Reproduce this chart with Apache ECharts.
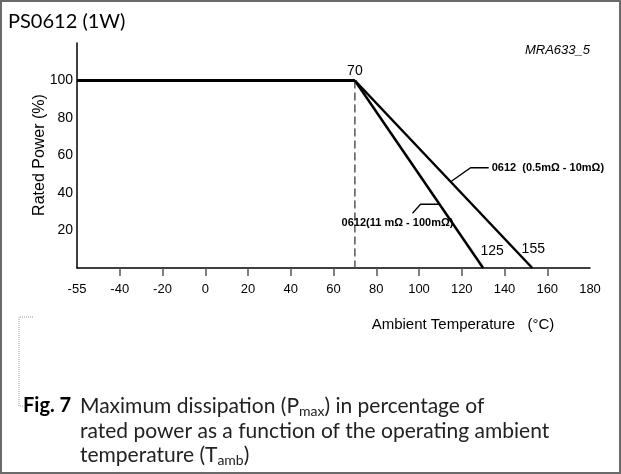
<!DOCTYPE html>
<html><head><meta charset="utf-8">
<script src="https://cdn.jsdelivr.net/npm/echarts@6/dist/echarts.min.js"></script>
<style>html,body{margin:0;padding:0;background:#fff}#c{width:621px;height:474px}</style>
</head><body><div id="c"></div>
<script>
// axis ticks (first position is drawn as the -55 °C origin)
const xTickValues = [-60,-40,-20,0,20,40,60,80,100,120,140,160,180];
const xTickLabels = ['-55','-40','-20','0','20','40','60','80','100','120','140','160','180'];
const yTickValues = [20,40,60,80,100];
// curves (x in axis units, y in % rated power)
const flatSeg = [[-60,100],[70,100]];
const curveLow = [[70,100],[130,0]];   // 0612 (11 mΩ - 100 mΩ)
const curveHigh = [[70,100],[153,0]];  // 0612 (0.5 mΩ - 10 mΩ)
const kneeLine = [[70,100],[70,0]];
const kneeLabel = '70';
const endLabels = ['125','155'];
const annotLow = '0612(11 mΩ - 100mΩ)';
const annotHigh = '0612  (0.5mΩ - 10mΩ)';
const annotLowY = 34;
const annotHighY = 46;
const titleText = 'PS0612 (1W)';
const codeText = 'MRA633_5';
const xName = 'Ambient Temperature   (°C)';
const yName = 'Rated Power (%)';

const chart = echarts.init(document.getElementById('c'), null, {renderer:'canvas'});
const AR = 'Liberation Sans, Arial, sans-serif';
const ptLabel = (txt, off) => ({show:true, position:'top', formatter:txt, color:'#000', fontSize:14, fontFamily:AR, offset:off});
const hiddenSym = {symbol:'circle', symbolSize:1, showSymbol:true, itemStyle:{color:'rgba(0,0,0,0)'}};
const option = {
  animation:false,
  backgroundColor:'#fff',
  grid:{left:77, right:31, top:43, bottom:206},
  xAxis:{type:'value', min:-60, max:180, interval:20,
    axisLine:{onZero:false, lineStyle:{color:'#000', width:1.5}},
    axisTick:{show:true, customValues:xTickValues.slice(1,-1), length:8, lineStyle:{color:'#555', width:1.5}},
    axisLabel:{color:'#000', fontSize:13, fontFamily:AR, margin:15,
      customValues:xTickValues,
      formatter:v=>{const i=xTickValues.indexOf(v); return i>=0?xTickLabels[i]:'';}},
    splitLine:{show:false}},
  yAxis:{type:'value', min:0, max:120, interval:20,
    axisLine:{show:true, onZero:false, lineStyle:{color:'#000', width:1.5}},
    axisTick:{show:false},
    axisLabel:{color:'#000', fontSize:14, fontFamily:AR, margin:4, padding:[0,0,7,0],
      customValues:yTickValues, formatter:v=>String(v)},
    splitLine:{show:false}},
  series:[
    {type:'line', data:kneeLine, symbol:'none', z:1,
      lineStyle:{color:'#555', width:1.5, type:[8,4]}},
    Object.assign({type:'line', data:[flatSeg[0], {value:flatSeg[1], label:ptLabel(kneeLabel,[0,3])}],
      z:3, lineStyle:{color:'#000', width:3}}, hiddenSym),
    Object.assign({type:'line', data:[curveLow[0], {value:curveLow[1], label:ptLabel(endLabels[0],[9,-4])}],
      z:3, lineStyle:{color:'#000', width:2.5}}, hiddenSym),
    Object.assign({type:'line', data:[curveHigh[0], {value:curveHigh[1], label:ptLabel(endLabels[1],[1,-6])}],
      z:3, lineStyle:{color:'#000', width:2.5}}, hiddenSym)
  ]
};
chart.setOption(option);

// anchors on the drawn lines
function onLine(seg, yv){const [a,b]=seg; const t=(a[1]-yv)/(a[1]-b[1]); return [a[0]+t*(b[0]-a[0]), yv];}
const aL = chart.convertToPixel({gridIndex:0}, onLine(curveLow, annotLowY));
const aH = chart.convertToPixel({gridIndex:0}, onLine(curveHigh, annotHighY));

const capFont = 'Lato, "Open Sans", sans-serif';
chart.setOption({graphic:[
  {type:'rect', shape:{x:1, y:1, width:619, height:472}, style:{fill:'none', stroke:'#6a6a6a', lineWidth:2}, silent:true},
  {type:'text', x:8, y:22, style:{text:titleText, fill:'#000', fontSize:20, fontFamily:capFont, verticalAlign:'middle'}},
  {type:'text', x:590, y:50, style:{text:codeText, fill:'#000', fontSize:13, fontStyle:'italic', fontFamily:AR, align:'right', verticalAlign:'middle'}},
  {type:'text', x:463, y:325, style:{text:xName, fill:'#000', fontSize:15, fontFamily:AR, align:'center', verticalAlign:'middle'}},
  {type:'text', x:40, y:155, rotation:Math.PI/2, style:{text:yName, fill:'#000', fontSize:16, fontFamily:AR, align:'center', verticalAlign:'middle'}},
  {type:'polyline', shape:{points:[[aH[0],aH[1]],[aH[0]+20,aH[1]-14],[aH[0]+38,aH[1]-14]]}, style:{stroke:'#000', lineWidth:1.3, fill:'none'}},
  {type:'text', x:aH[0]+41, y:aH[1]-14, style:{text:annotHigh, fill:'#000', fontSize:11, fontWeight:'bold', fontFamily:AR, verticalAlign:'middle'}},
  {type:'polyline', shape:{points:[[aL[0]-27,aL[1]+9],[aL[0]-19,aL[1]],[aL[0],aL[1]]]}, style:{stroke:'#000', lineWidth:1.3, fill:'none'}},
  {type:'text', x:aL[0]-42, y:aL[1]+19, style:{text:annotLow, fill:'#000', fontSize:11, fontWeight:'bold', fontFamily:AR, align:'center', verticalAlign:'middle'}, z:10},
  {type:'polyline', shape:{points:[[33,317],[19,317],[19,406],[23,406]]}, style:{stroke:'#999', lineWidth:1, lineDash:[1,1], fill:'none'}},
  {type:'text', x:23, y:406, style:{text:'Fig. 7', fill:'#000', fontSize:20, fontWeight:'bold', fontFamily:capFont, verticalAlign:'middle'}},
  {type:'text', x:80, y:394, style:{text:'Maximum dissipation (P{s|max}) in percentage of\nrated power as a function of the operating ambient\ntemperature (T{s|amb})',
    fill:'#222', fontSize:21, fontFamily:capFont, lineHeight:24.5, verticalAlign:'top',
    rich:{s:{fontSize:14, fontFamily:capFont, fill:'#222', lineHeight:15, verticalAlign:'bottom'}}}}
]});
</script></body></html>
